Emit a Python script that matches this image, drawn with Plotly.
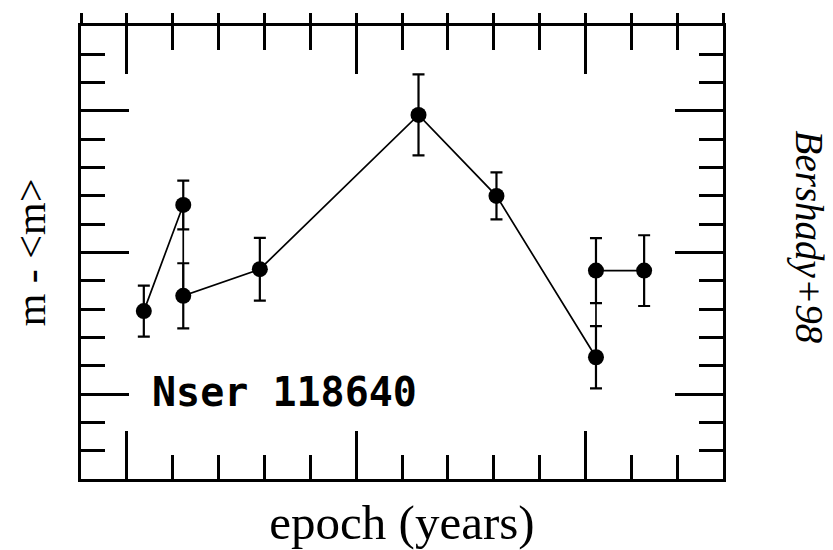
import plotly.graph_objects as go

# Light-curve epochs (years) and magnitude offsets m - <m>, with 1-sigma errors
epoch = [1985.37, 1986.23, 1986.23, 1987.90, 1991.36, 1993.06, 1995.23, 1995.23, 1996.28]
dmag = [-0.207, 0.168, -0.153, -0.059, 0.486, 0.200, -0.370, -0.064, -0.064]
dmag_err = [0.090, 0.086, 0.115, 0.111, 0.143, 0.083, 0.110, 0.115, 0.125]

x_range = [1984, 1998]
y_range = [-0.8, 0.8]

object_label = "Nser 118640"
ref_label = "Bershady+98"

SERIF = "Liberation Serif, Times New Roman, Times, serif"

fig = go.Figure()

fig.add_trace(go.Scatter(
    x=epoch, y=dmag,
    mode="lines+markers",
    line=dict(color="black", width=1.7),
    marker=dict(color="black", size=16),
    error_y=dict(type="data", array=dmag_err, symmetric=True,
                 color="black", thickness=2.2, width=6),
    showlegend=False,
    hoverinfo="skip",
))
# empty trace to anchor the outer tick axis along the top
fig.add_trace(go.Scatter(x=[], y=[], xaxis="x2", showlegend=False))

axis_common = dict(
    showgrid=False, zeroline=False, showticklabels=False,
    showline=True, linecolor="black", linewidth=3,
    mirror="ticks", ticks="inside", ticklen=48, tickwidth=2.5, tickcolor="black",
)

fig.update_layout(
    width=833, height=550,
    margin=dict(l=81, r=110, t=26, b=71),
    paper_bgcolor="white", plot_bgcolor="white",
    xaxis=dict(
        range=x_range, dtick=5, tick0=1985,
        minor=dict(dtick=1, tick0=1984, ticks="inside", ticklen=24,
                   tickwidth=2.5, tickcolor="black"),
        title=dict(text="epoch (years)", standoff=26,
                   font=dict(family=SERIF, size=49, color="black")),
        **axis_common,
    ),
    xaxis2=dict(
        overlaying="x", side="top", range=x_range, dtick=5, tick0=1985,
        showgrid=False, zeroline=False, showticklabels=False, showline=False,
        ticks="outside", ticklen=12, tickwidth=2.5, tickcolor="black",
        minor=dict(dtick=1, tick0=1984, ticks="outside", ticklen=12,
                   tickwidth=2.5, tickcolor="black"),
    ),
    yaxis=dict(
        range=y_range, dtick=0.5, tick0=0,
        minor=dict(dtick=0.1, tick0=0, ticks="inside", ticklen=24,
                   tickwidth=2.5, tickcolor="black"),
        title=dict(text="m - &lt;m&gt;", standoff=20,
                   font=dict(family=SERIF, size=42, color="black")),
        **axis_common,
    ),
)

fig.add_annotation(
    x=1985.5, y=-0.493, xref="x", yref="y",
    text=f"<b>{object_label}</b>", showarrow=False,
    xanchor="left", yanchor="middle",
    font=dict(family="DejaVu Sans Mono", size=40, color="black"),
)

fig.add_annotation(
    x=1.134, y=0.535, xref="paper", yref="paper",
    text=f"<i>{ref_label}</i>", showarrow=False, textangle=90,
    xanchor="center", yanchor="middle",
    font=dict(family=SERIF, size=39, color="black"),
)

fig.write_html("out.html")
